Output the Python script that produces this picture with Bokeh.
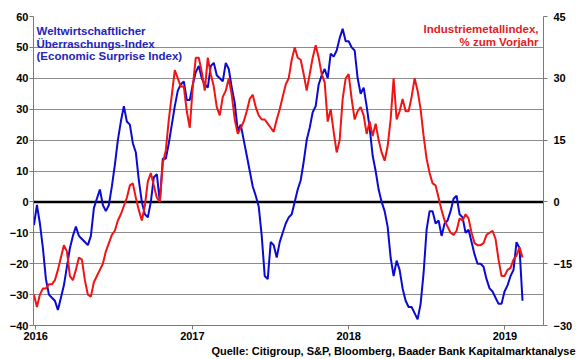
import pandas as pd
from bokeh.plotting import figure
from bokeh.models import (Range1d, LinearAxis, FixedTicker, DatetimeTickFormatter,
                          Span, Label, ColumnDataSource, Title)
from bokeh.embed import file_html
from bokeh.resources import INLINE

# ---- data (weekly) ----
start_date = "2015-12-28"

# Economic Surprise Index (left axis)
surprise = [
    -7.5, -1, -7, -15, -25, -30, -31, -32, -35, -31, -27, -21, -15, -11, -8, -11, -12, -13, -14, -11,
    -2, 1, 4, -1, -3, -1, 5, 12, 20,
    26, 31, 26, 25, 19, 16, 7, 0, -4, -5, 0, 8, 9, 0, 14, 14, 19, 25, 31, 36, 38, 39, 33, 33, 38,
    42, 44, 40,
    38, 37, 44, 45, 41, 40, 39, 45, 43, 37, 32, 23, 25, 20, 15, 10, 5, 2, -1.5, -11, -24, -25, -13,
    -14, -18, -13, -10, -7, -5,
    -4, 0, 4, 7, 13, 20, 24, 29, 31, 38, 41, 43, 40, 48, 47, 49, 53, 56, 52, 52, 50, 49, 40, 35,
    37, 31, 24, 15,
    10, 4, 0, -3, -8, -18, -24, -19, -22, -28, -32, -34, -34, -36, -38, -33, -23, -9, -3, -3, -7,
    -6, -11, -7, -6, -3, 1, 2,
    -4, -5, -10, -9, -13, -17, -20, -20, -21, -25, -28, -29, -31, -33, -33, -29, -27, -24, -22,
    -13, -15, -32,
]

# Industrial metals index, % y/y (right axis)
metals = [
    -22.5, -25.5, -22.5, -21, -21, -20, -20, -19, -16.5, -13.5, -10.5, -12, -18, -19, -16.5, -13.5,
    -14, -19, -22.5, -23, -19.5, -18, -16.5, -15, -12, -10, -8, -7, -4.5,
    -3, -1, 1, 4, 4.5, 1, -2, -4.5, -1, 5, 7, 4, 1, 0, 9.5, 12.5, 20, 26, 32, 30, 28, 28, 22, 18,
    28, 35, 35, 31.5,
    27, 35, 31, 28, 23, 21, 25.5, 27, 30, 26, 20, 16.5, 18, 19.5, 22, 25, 26, 23, 21, 20, 20, 19,
    18, 17, 20, 22.5, 25.5, 28.5, 30,
    34.5, 37.5, 35, 34.5, 31, 27, 31, 35, 38, 35, 31, 29, 19.5, 22.5, 17, 12, 15, 25, 30, 31, 25,
    20, 22, 23, 21, 16.5, 19.5, 16,
    19, 15, 12, 10, 13.5, 20, 30, 20, 22, 25, 22, 22, 25.5, 30, 27, 22.5, 16, 10.5, 7, 4.5, 4, 1,
    -2, -4.5, -6, -7.5, -8, -7,
    -4, -4.5, -3, -4, -7.5, -10, -10.5, -10.5, -10, -8, -7.5, -7, -9, -14, -18, -18, -16.5, -16,
    -14, -13, -11, -13.5,
]

left_ticks = [-40, -30, -20, -10, 0, 10, 20, 30, 40, 50, 60]
right_ticks = [-30, -15, 0, 15, 30, 45]
year_ticks = ["2016-01-01", "2017-01-01", "2018-01-01", "2019-01-01"]

title_left = ["Weltwirtschaftlicher", "Überraschungs-Index", "(Economic Surprise Index)"]
title_right = ["Industriemetallindex,", "% zum Vorjahr"]
source_text = "Quelle: Citigroup, S&P, Bloomberg, Baader Bank Kapitalmarktanalyse"

# ---- figure ----
FONT = "Liberation Sans"
BLUE = "#0a0ad2"
RED = "#f01414"
GRID = "#8c8c8c"
AXIS = "#7a7a7a"

dates = pd.date_range(start_date, periods=len(surprise), freq="7D")
src = ColumnDataSource(dict(date=dates, surprise=surprise, metals=metals))

p = figure(frame_width=510, frame_height=309, x_axis_type="datetime",
           x_range=Range1d(pd.Timestamp("2015-12-27"), pd.Timestamp("2019-04-01")),
           y_range=Range1d(-40, 60),
           output_backend="svg", toolbar_location=None,
           min_border_left=33, min_border_right=37, min_border_top=16, min_border_bottom=34)
p.extra_y_ranges = {"right": Range1d(-30, 45)}
p.outline_line_color = None
p.background_fill_color = "white"
p.border_fill_color = "white"

p.xgrid.visible = False
p.ygrid.ticker = FixedTicker(ticks=left_ticks)
p.ygrid.grid_line_color = GRID
p.ygrid.grid_line_width = 1

def style_axis(ax, standoff):
    ax.axis_line_color = AXIS
    ax.axis_line_width = 1
    ax.major_tick_line_color = AXIS
    ax.major_tick_out = 4
    ax.major_tick_in = 0
    ax.minor_tick_line_color = None
    ax.major_label_text_font = FONT
    ax.major_label_text_font_style = "bold"
    ax.major_label_text_font_size = "11px"
    ax.major_label_text_color = "black"
    ax.major_label_standoff = standoff

yl = p.yaxis[0]
yl.ticker = FixedTicker(ticks=left_ticks)
style_axis(yl, 1)

xa = p.xaxis[0]
xa.ticker = FixedTicker(ticks=[pd.Timestamp(t).value // 10**6 for t in year_ticks])
xa.formatter = DatetimeTickFormatter(years="%Y", months="%Y", days="%Y", hours="%Y",
                                     minutes="%Y", seconds="%Y", milliseconds="%Y",
                                     microseconds="%Y", minsec="%Y", hourmin="%Y")
style_axis(xa, 2)

yr = LinearAxis(y_range_name="right", ticker=FixedTicker(ticks=right_ticks))
style_axis(yr, 6)
p.add_layout(yr, "right")

p.add_layout(Span(location=0, dimension="width", line_color="black", line_width=2.5,
                  level="underlay"))

p.line("date", "surprise", source=src, line_color=BLUE, line_width=2)
p.line("date", "metals", source=src, line_color=RED, line_width=2, y_range_name="right")

# ---- texts ----
for i, t in enumerate(title_left):
    p.add_layout(Label(x=3, y=294.5 - 12.7 * i, x_units="screen", y_units="screen", text=t,
                       text_font=FONT, text_font_style="bold", text_font_size="11.5px",
                       text_color="#2424b8", text_align="left", text_baseline="alphabetic"))
for i, t in enumerate(title_right):
    p.add_layout(Label(x=505, y=297 - 13.4 * i, x_units="screen", y_units="screen", text=t,
                       text_font=FONT, text_font_style="bold", text_font_size="11.5px",
                       text_color="#e21b24", text_align="right", text_baseline="alphabetic"))

p.add_layout(Title(text=source_text, align="right", offset=-32, standoff=0,
                   text_font=FONT, text_font_style="bold", text_font_size="11px",
                   text_color="black"), "below")

open("out.html", "w").write(file_html(p, INLINE))
